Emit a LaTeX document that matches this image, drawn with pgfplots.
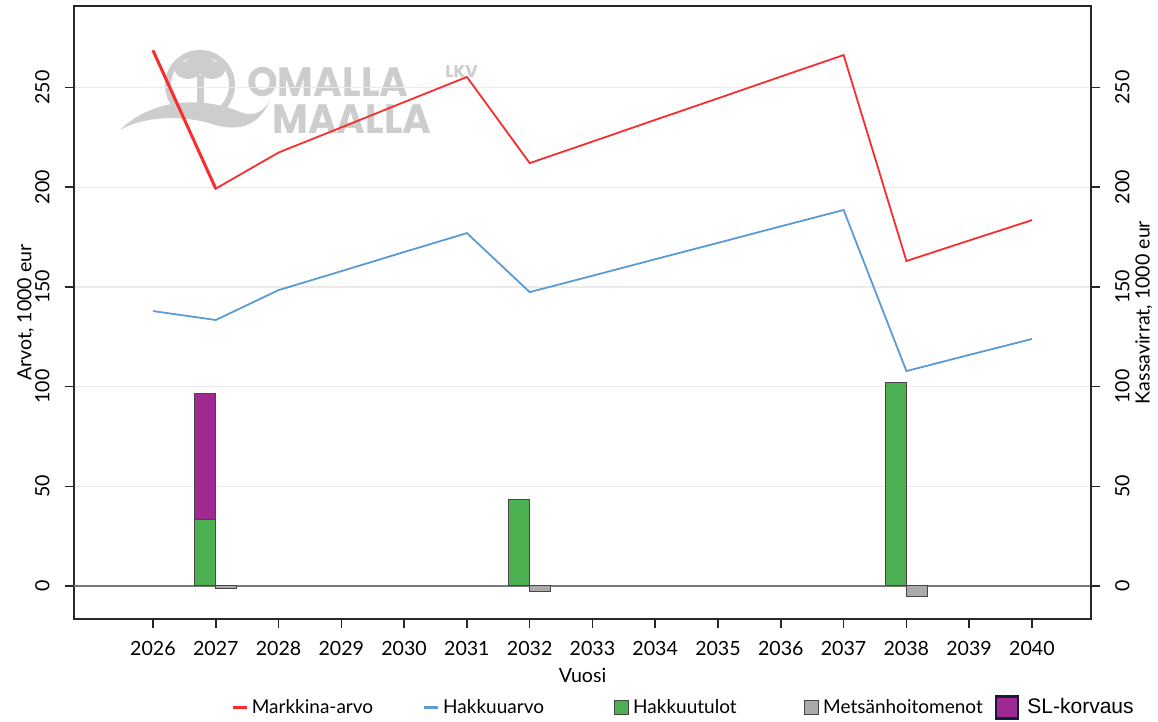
\documentclass[border=0pt]{standalone}
\usepackage{pgfplots}
\pgfplotsset{compat=1.18}
\usepackage{fontspec}
\setmainfont{Lato}
\newfontfamily\wmfont{Poppins}
\newfontfamily\arialfont{Liberation Sans}
\definecolor{redcol}{RGB}{248,45,45}
\definecolor{bluecol}{RGB}{90,155,213}
\definecolor{greencol}{RGB}{76,175,80}
\definecolor{purplecol}{RGB}{160,42,145}
\definecolor{graybar}{RGB}{170,170,170}
\definecolor{edgecol}{RGB}{70,70,70}
\definecolor{axcol}{RGB}{40,40,40}
\definecolor{gridcol}{RGB}{235,235,235}
\definecolor{zerocol}{RGB}{120,120,120}
\definecolor{wmcol}{RGB}{205,205,205}
\definecolor{navy}{RGB}{20,30,60}
\newcommand\lblfont{\fontsize{9.8}{11}\selectfont}
\newcommand\legfont{\fontsize{9.5}{11}\selectfont}
\begin{document}
\begin{tikzpicture}
% watermark (pixel-like coordinates)
\begin{scope}[x=0.5pt, y=-0.5pt, shift={(-37pt,309.5pt)}]
  \draw[wmcol, line width=3pt] (200,85) circle (32);
  \fill[wmcol] (188,70) ellipse (13 and 9);
  \fill[wmcol] (212,70) ellipse (13 and 9);
  \fill[wmcol] (200,64) ellipse (15 and 9);
  \fill[wmcol] (197,75) rectangle (204,112);
  \fill[wmcol] (120,130) .. controls (150,100) and (200,95) .. (240,112)
     .. controls (255,118) and (265,110) .. (270,100)
     .. controls (260,125) and (240,132) .. (215,125)
     .. controls (180,113) and (140,118) .. (120,130) -- cycle;
  \node[wmcol, anchor=base west, inner sep=0pt, xscale=0.95, align=left,
        font=\wmfont\bfseries\fontsize{20.5}{18.5}\selectfont] at (247,134)
    {OMALLA\\\hspace*{13.2pt}MAALLA};
  \node[wmcol, anchor=base west, inner sep=0pt, font=\wmfont\bfseries\fontsize{8.5}{8.5}\selectfont] at (445,78) {LKV};
\end{scope}

\begin{axis}[
  name=ax, scale only axis, width=508.5pt, height=306.5pt,
  xmin=2024.742, xmax=2040.94, ymin=-16.55, ymax=290.9,
  axis line style={draw=axcol, line width=1.1pt},
  tick pos=left, tick align=outside, major tick length=4.5pt,
  tick style={draw=axcol, line width=0.8pt},
  xtick={2026,...,2040}, ytick={0,50,...,250},
  /pgf/number format/assume math mode=true,
  xticklabel style={/pgf/number format/1000 sep={}, font=\lblfont, yshift=-3pt},
  yticklabel style={xshift=-4.2pt, rotate=90, anchor=south, font=\lblfont},
  ymajorgrids, major grid style={draw=gridcol, line width=0.6pt},
  extra y ticks={0}, extra y tick labels={},
  extra y tick style={major grid style={draw=zerocol, line width=0.9pt}},
  xlabel={Vuosi}, ylabel={Arvot, 1000 eur},
  every axis x label/.style={at={(axis description cs:0.5,-0.0914)}, anchor=center, font=\lblfont},
  every axis y label/.style={at={(axis description cs:-0.0475,0.5)}, rotate=90, anchor=center, font=\lblfont},
]
\addplot[ybar, bar width=0.334, bar shift=0.167, fill=graybar, draw=edgecol, line width=0.5pt]
  coordinates {(2027,-1.2) (2032,-2.7) (2038,-5.5)};
\addplot[redcol, line width=0.9pt] coordinates {
  (2026,268.6) (2027,199.3) (2028,217.4) (2029,230.0) (2030,242.7) (2031,255.3)
  (2032,212.1) (2033,222.9) (2034,233.8) (2035,244.6) (2036,255.5) (2037,266.3)
  (2038,163.0) (2039,173.3) (2040,183.5)};
\addplot[redcol, line width=1.5pt] coordinates {(2026,268.6) (2027,199.3)};
\addplot[bluecol, line width=0.9pt] coordinates {
  (2026,137.9) (2027,133.4) (2028,148.4) (2029,157.9) (2030,167.5) (2031,177.0)
  (2032,147.4) (2033,155.6) (2034,163.9) (2035,172.1) (2036,180.4) (2037,188.6)
  (2038,107.8) (2039,115.9) (2040,123.9)};
\end{axis}

\begin{axis}[
  scale only axis, width=508.5pt, height=306.5pt,
  xmin=2024.742, xmax=2040.94, ymin=-16.55, ymax=290.9,
  axis x line=none, axis y line*=right,
  axis line style={draw=axcol, line width=1.1pt},
  tick align=outside, major tick length=4.5pt,
  tick style={draw=axcol, line width=0.8pt},
  ytick={0,50,...,250},
  /pgf/number format/assume math mode=true,
  yticklabel style={xshift=4pt, rotate=90, anchor=north, font=\lblfont},
  ylabel={Kassavirrat, 1000 eur},
  every axis y label/.style={at={(axis description cs:1.052,0.5)}, rotate=90, anchor=center, font=\lblfont},
  ybar stacked, bar width=0.334,
  legend columns=5,
  legend style={draw=none, fill=none, at={(axis description cs:0.1544,-0.1445)}, anchor=west,
    font=\legfont, cells={anchor=west}, inner sep=0pt,
    /tikz/every even column/.append style={column sep=0pt}},
]
\addlegendimage{legend image code/.code={\draw[redcol, line width=1.2pt] (0pt,0pt) -- (7pt,0pt);}}
\addlegendentry{\makebox[83.5pt][l]{Markkina-arvo}}
\addlegendimage{legend image code/.code={\draw[bluecol, line width=1.2pt] (0pt,0pt) -- (7pt,0pt);}}
\addlegendentry{\makebox[83.5pt][l]{Hakkuuarvo}}
\addlegendimage{legend image code/.code={\draw[fill=greencol, draw=edgecol, line width=0.5pt] (0pt,-3.5pt) rectangle (7pt,3.5pt);}}
\addlegendentry{\makebox[83.5pt][l]{Hakkuutulot}}
\addlegendimage{legend image code/.code={\draw[fill=graybar, draw=edgecol, line width=0.5pt] (0pt,-3.5pt) rectangle (7pt,3.5pt);}}
\addlegendentry{\makebox[84pt][l]{Metsänhoitomenot}}
\addlegendimage{legend image code/.code={\draw[fill=purplecol, draw=navy, line width=1.1pt] (0pt,-5.5pt) rectangle (11pt,5.5pt);}}
\addlegendentry{\hspace{2pt}\arialfont\fontsize{10.5}{12}\selectfont SL-korvaus}
\addplot[fill=greencol, draw=edgecol, line width=0.5pt, bar shift=-0.167]
  coordinates {(2027,33.6) (2032,43.5) (2038,102.2)};
\addplot[fill=purplecol, draw=edgecol, line width=0.5pt, bar shift=-0.167]
  coordinates {(2027,63.0) (2032,0) (2038,0)};
\end{axis}
\pgfresetboundingbox
\path[use as bounding box] (-37pt,-51.5pt) rectangle (542pt,309.5pt);
\end{tikzpicture}
\end{document}
